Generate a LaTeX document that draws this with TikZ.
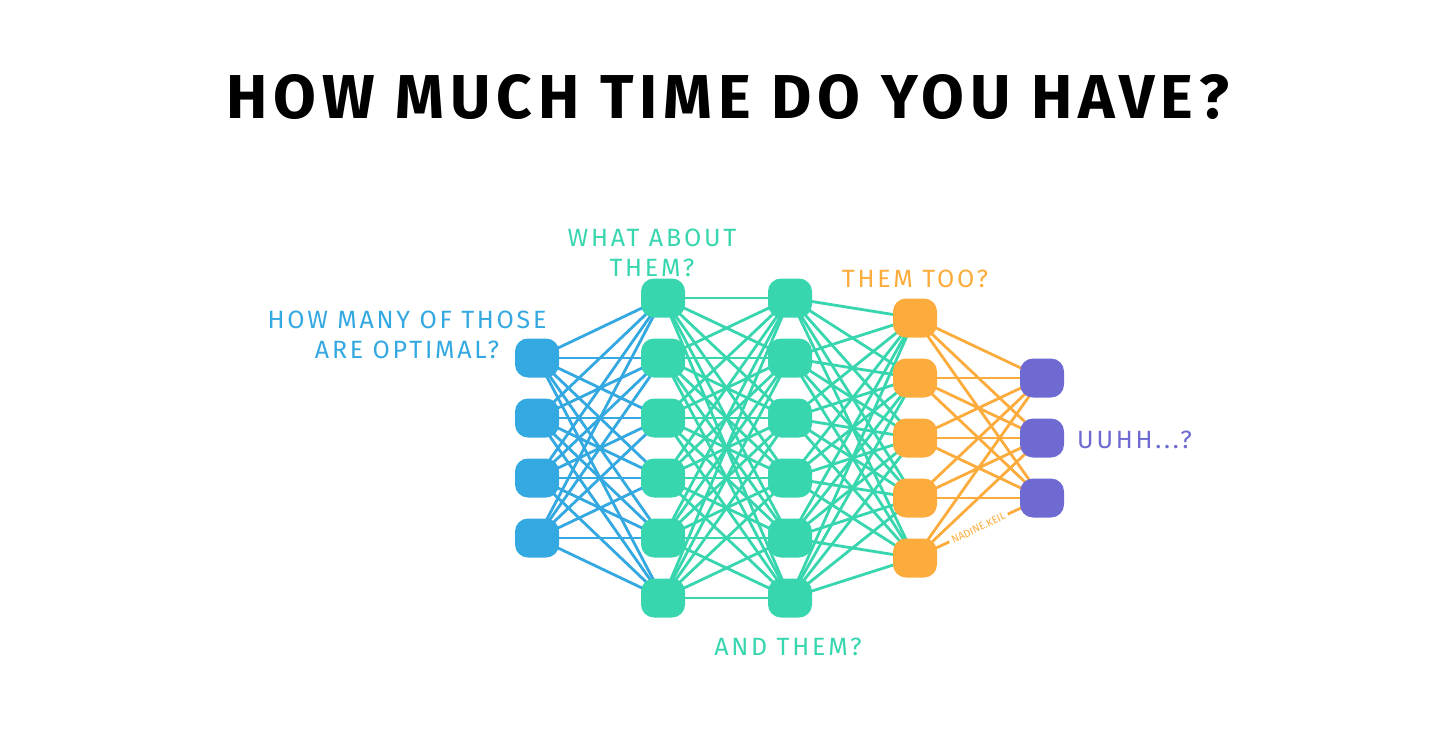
\documentclass[tikz,border=0pt]{standalone}
\usepackage{fontspec}
\setmainfont{Fira Sans}
\definecolor{nnblue}{RGB}{52,168,224}
\definecolor{nngreen}{RGB}{56,214,174}
\definecolor{nnorange}{RGB}{252,172,60}
\definecolor{nnpurple}{RGB}{110,106,210}
\pgfdeclarelayer{bgwhite}
\pgfdeclarelayer{edges}
\pgfsetlayers{bgwhite,edges,main}
\begin{document}
\begin{tikzpicture}[x=1pt,y=-1pt,
  neuron/.style={rectangle,rounded corners=13pt,minimum width=44pt,minimum height=39pt,inner sep=0pt,fill=#1},
  link/.style={line width=2.8pt,draw=#1},
  lab/.style={font=\fontsize{25}{30}\selectfont\addfontfeatures{LetterSpace=11},text=#1,align=center,inner sep=0pt},
  titlelab/.style={font=\fontsize{62}{62}\selectfont\bfseries\addfontfeatures{LetterSpace=9.5},text=black,inner sep=0pt}]
\begin{pgfonlayer}{bgwhite}
  \fill[white] (0,0) rectangle (1456,728);
\end{pgfonlayer}
\useasboundingbox (0,0) rectangle (1456,728);

\node[titlelab] (title) at (728,97) {HOW MUCH TIME DO YOU HAVE?};

\foreach \i/\yy in {1/358,2/418,3/478,4/538}
  \node[neuron=nnblue] (b\i) at (537,\yy) {};
\foreach \i/\yy in {1/298,2/358,3/418,4/478,5/538,6/598}{
  \node[neuron=nngreen] (g\i) at (663,\yy) {};
  \node[neuron=nngreen] (h\i) at (790,\yy) {};
}
\foreach \i/\yy in {1/318,2/378,3/438,4/498,5/558}
  \node[neuron=nnorange] (o\i) at (915,\yy) {};
\foreach \i/\yy in {1/378,2/438,3/498}
  \node[neuron=nnpurple] (p\i) at (1042,\yy) {};

\begin{pgfonlayer}{edges}
  \foreach \i in {1,...,4}
    \foreach \j in {1,...,6}
      \draw[link=nnblue] (b\i.center) -- (g\j.center);
  \foreach \i in {1,...,6}
    \foreach \j in {1,...,6}
      \draw[link=nngreen] (g\i.center) -- (h\j.center);
  \foreach \i in {1,...,6}
    \foreach \j in {1,...,5}
      \draw[link=nngreen] (h\i.center) -- (o\j.center);
  \foreach \i in {1,...,4}
    \foreach \j in {1,...,3}
      \draw[link=nnorange] (o\i.center) -- (p\j.center);
  \draw[link=nnorange] (o5.center) -- (p1.center);
  \draw[link=nnorange] (o5.center) -- (p2.center);
  \draw[link=nnorange] (o5.center) -- node[sloped,fill=white,inner sep=3pt,text=nnorange,font=\fontsize{10.5}{10.5}\selectfont] (sig) {NADINE.KEIL} (p3.center);
\end{pgfonlayer}

\node[lab=nnblue] (qblue) at (407,335) {HOW MANY OF THOSE\\ARE OPTIMAL?};
\node[lab=nngreen] (qgreen) at (652,253) {WHAT ABOUT\\THEM?};
\node[lab=nnorange] (qorange) at (915,279) {THEM TOO?};
\node[lab=nnpurple,anchor=west] (qpurple) at (1077,440) {UUHH...?};
\node[lab=nngreen] (qand) at (788,647) {AND THEM?};
\end{tikzpicture}
\end{document}
